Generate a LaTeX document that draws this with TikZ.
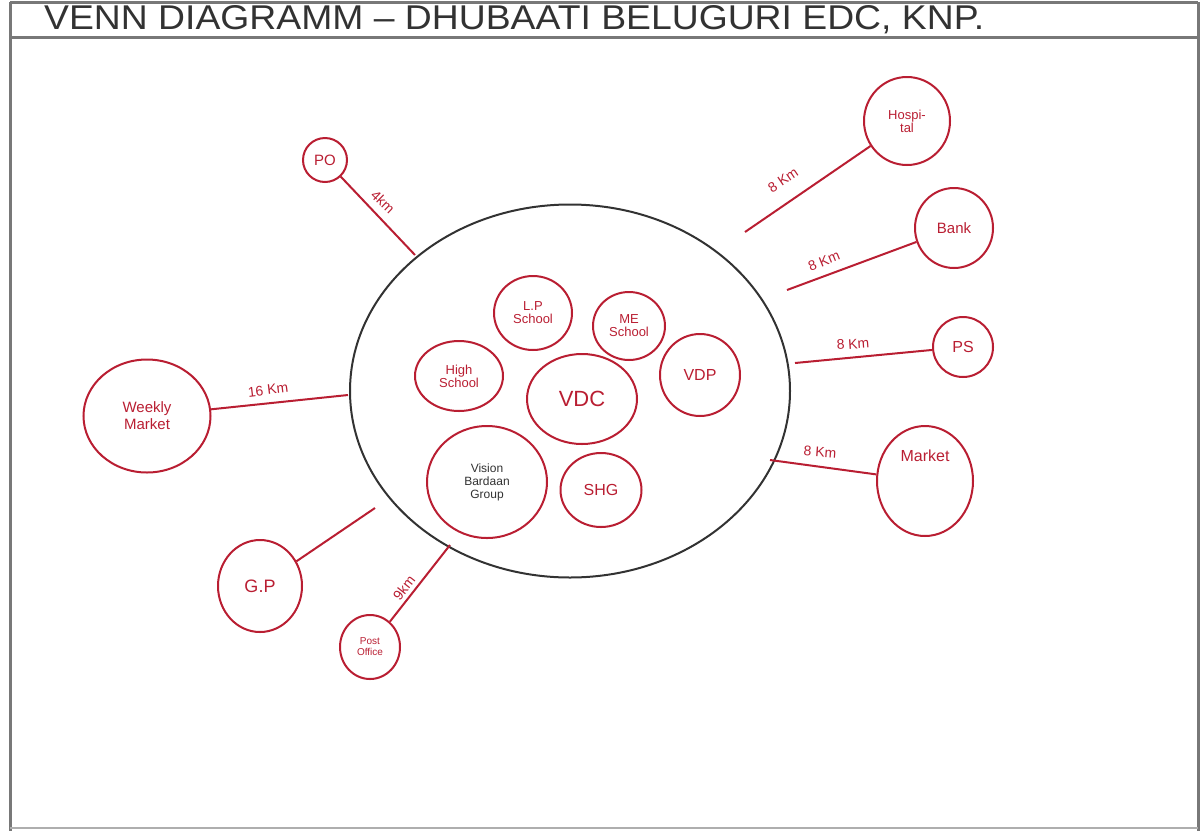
\documentclass[tikz,border=0pt]{standalone}
\usepackage{fontspec}
\setmainfont{Liberation Sans}
\usetikzlibrary{shapes.geometric}
\definecolor{pen}{RGB}{185,30,50}
\definecolor{ink}{RGB}{50,50,50}
\definecolor{frame}{RGB}{120,120,120}
\begin{document}
\begin{tikzpicture}[x=1pt,y=-1pt,
  bub/.style={draw=pen, line width=2pt, ellipse, inner sep=0pt, text=pen, align=center, font=\fontsize{13}{13}\selectfont},
  conn/.style={draw=pen, line width=2pt},
  dist/.style={text=pen, inner sep=1pt, font=\fontsize{14}{14}\selectfont}]
\useasboundingbox (0,0) rectangle (1202,831);
% frame
\draw[frame, line width=3pt] (10,2) -- (1198,2);
\draw[frame, line width=3pt] (10,37) -- (1198,37);
\draw[frame, line width=3pt] (10,2) -- (10,831);
\draw[frame, line width=3pt] (1198,2) -- (1198,831);
\draw[frame!60, line width=2pt] (10,828) -- (1198,828);
\node[anchor=west, inner sep=0pt, text=ink] (title) at (44,20) {\resizebox{940pt}{24pt}{VENN DIAGRAMM -- DHUBAATI BELUGURI EDC, KNP.}};
% village circle
\node[draw=ink, line width=2pt, ellipse, minimum width=440, minimum height=373] (vil) at (570,391) {};
% inner circles
\node[bub, minimum width=78, minimum height=74] (lp) at (533,313) {L.P\\School};
\node[bub, minimum width=72, minimum height=68] (me) at (629,326) {ME\\School};
\node[bub, minimum width=88, minimum height=70] (hs) at (459,376) {High\\School};
\node[bub, minimum width=110, minimum height=90, font=\fontsize{22}{22}\selectfont] (vdc) at (582,399) {VDC};
\node[bub, minimum width=80, minimum height=82, font=\fontsize{16}{16}\selectfont] (vdp) at (700,375) {VDP};
\node[bub, minimum width=120, minimum height=112, text=ink, font=\fontsize{12}{13}\selectfont] (vbg) at (487,482) {Vision\\Bardaan\\Group};
\node[bub, minimum width=81, minimum height=74, font=\fontsize{16}{16}\selectfont] (shg) at (601,490) {SHG};
% outer circles
\node[bub, minimum width=44, minimum height=44, font=\fontsize{15}{15}\selectfont] (po) at (325,160) {PO};
\node[bub, minimum width=86, minimum height=88] (hosp) at (907,121) {Hospi-\\tal};
\node[bub, minimum width=78, minimum height=80, font=\fontsize{15}{15}\selectfont] (bank) at (954,228) {Bank};
\node[bub, minimum width=60, minimum height=60, font=\fontsize{16}{16}\selectfont] (ps) at (963,347) {PS};
\node[bub, minimum width=96, minimum height=110, font=\fontsize{16}{16}\selectfont] (mkt) at (925,481) {Market\\[34pt]\mbox{}};
\node[bub, minimum width=127, minimum height=113, font=\fontsize{15}{17}\selectfont] (wm) at (147,416) {Weekly\\Market};
\node[bub, minimum width=84, minimum height=92, font=\fontsize{18}{18}\selectfont] (gp) at (260,586) {G.P};
\node[bub, minimum width=60, minimum height=64, font=\fontsize{10}{11}\selectfont] (pof) at (370,647) {Post\\Office};
% connector ends
\coordinate (e1) at (415,255);
\coordinate (e2) at (745,232);
\coordinate (e3) at (787,290);
\coordinate (e4) at (795,363);
\coordinate (e5) at (770,460);
\coordinate (e6) at (348,395);
\coordinate (e7) at (375,508);
\coordinate (e8) at (450,545);
\draw[conn] (po) -- (e1);
\draw[conn] (hosp) -- (e2);
\draw[conn] (bank) -- (e3);
\draw[conn] (ps) -- (e4);
\draw[conn] (mkt) -- (e5);
\draw[conn] (wm) -- (e6);
\draw[conn] (gp) -- (e7);
\draw[conn] (pof) -- (e8);
% distances
\node[dist, rotate=-44] (d1) at (383,202) {4km};
\node[dist, rotate=34] (d2) at (783,180) {8 Km};
\node[dist, rotate=22] (d3) at (824,261) {8 Km};
\node[dist, rotate=4] (d4) at (853,344) {8 Km};
\node[dist, rotate=-4] (d5) at (820,452) {8 Km};
\node[dist, rotate=7] (d6) at (268,390) {16 Km};
\node[dist, rotate=52] (d7) at (404,588) {9km};
\end{tikzpicture}
\end{document}
